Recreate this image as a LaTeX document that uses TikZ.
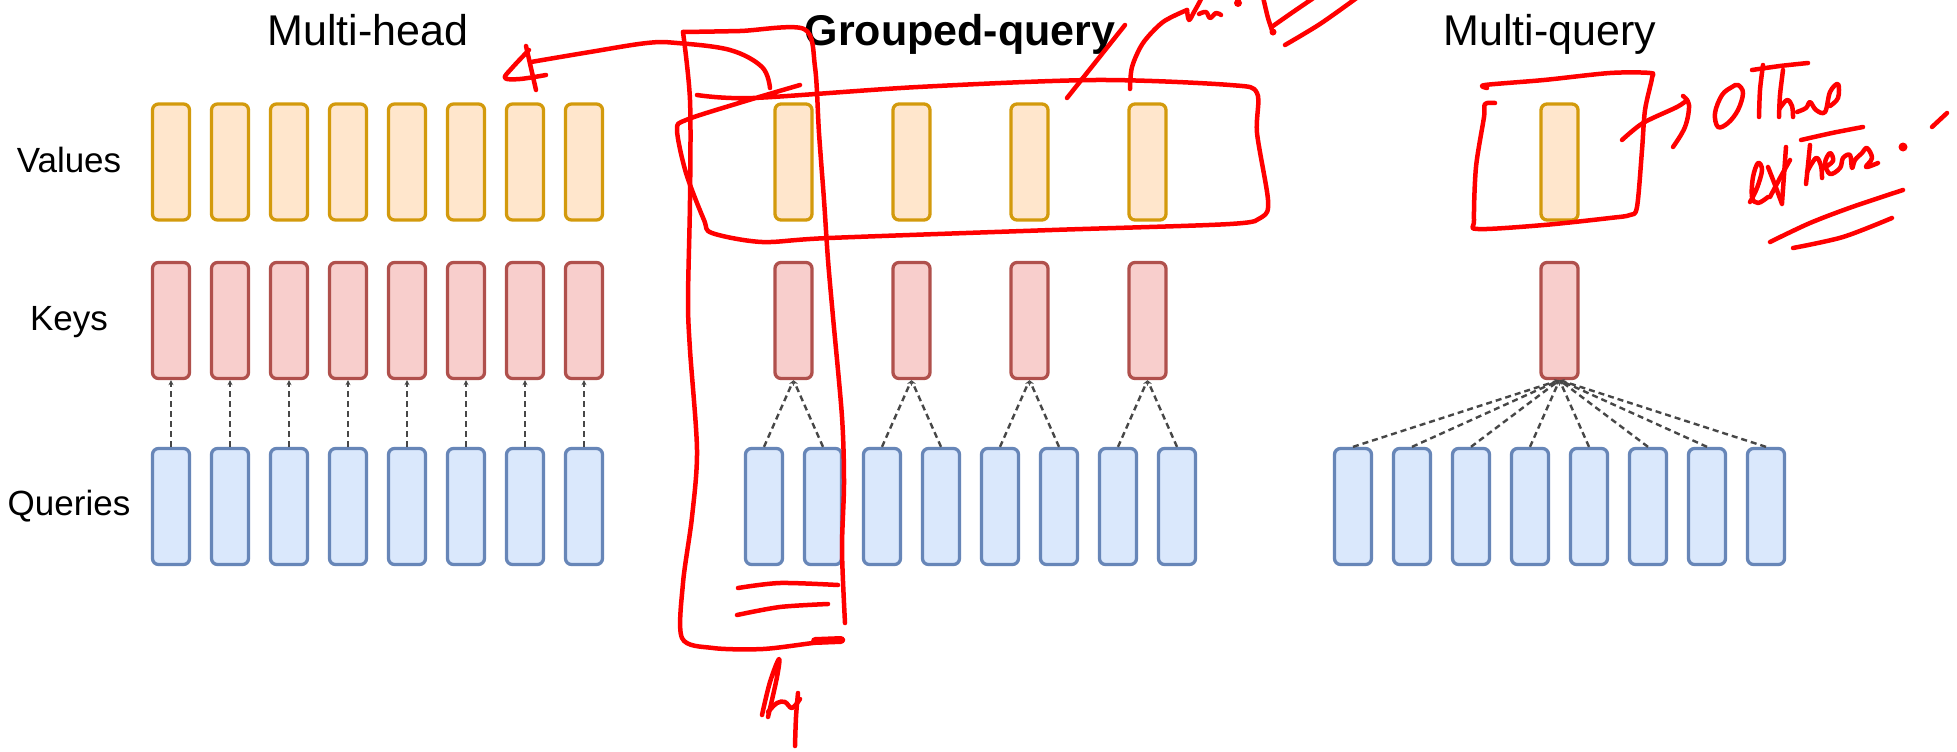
\documentclass[tikz,border=0pt]{standalone}
\usepackage{fontspec}
\setmainfont{Liberation Sans}
\usetikzlibrary{arrows.meta}

\definecolor{valfill}{HTML}{FFE6CC}
\definecolor{valdraw}{HTML}{D39A0C}
\definecolor{keyfill}{HTML}{F8CECC}
\definecolor{keydraw}{HTML}{B0504C}
\definecolor{qfill}{HTML}{DAE8FC}
\definecolor{qdraw}{HTML}{6786B8}
\definecolor{link}{HTML}{474747}
\definecolor{ink}{HTML}{FF0000}

\begin{document}
\begin{tikzpicture}[x=1pt,y=-1pt,
  headbox/.style={rectangle, rounded corners=6pt, line width=3.3pt,
    minimum width=37pt, minimum height=116pt, inner sep=0pt},
  valbox/.style={headbox, fill=valfill, draw=valdraw},
  keybox/.style={headbox, fill=keyfill, draw=keydraw},
  qbox/.style={headbox, fill=qfill, draw=qdraw},
  share/.style={draw=link, line width=2.4pt, dash pattern=on 6pt off 4pt,
    -{Stealth[length=5pt,width=5pt]}},
  rowlabel/.style={font=\fontsize{35}{40}\selectfont, anchor=base, inner sep=0pt},
  title/.style={font=\fontsize{43}{50}\selectfont, anchor=base, inner sep=0pt},
  pen/.style={draw=ink, line width=4.5pt, line cap=round, line join=round},
]
\path[fill=white, use as bounding box] (0,0) rectangle (1957,752);

% titles and row labels
\node[title] (tmh) at (368,46) {Multi-head};
\node[title, font=\fontsize{43}{50}\selectfont\bfseries] (tgq) at (960,46) {Grouped-query};
\node[title] (tmq) at (1550,46) {Multi-query};
\node[rowlabel] (lval) at (69,172) {Values};
\node[rowlabel] (lkey) at (69,330) {Keys};
\node[rowlabel] (lqry) at (69,515) {Queries};

% multi-head: one key/value head per query head
\foreach \i in {0,...,7} {
  \node[valbox] (mhv\i) at ({171+59*\i},162) {};
  \node[keybox] (mhk\i) at ({171+59*\i},320.5) {};
  \node[qbox]   (mhq\i) at ({171+59*\i},506.5) {};
  \draw[share] (mhq\i.north) -- (mhk\i.south);
}

% grouped-query: one key/value head per pair of query heads
\foreach \j in {0,...,3} {
  \node[valbox] (gqv\j) at ({793.5+118*\j},162) {};
  \node[keybox] (gqk\j) at ({793.5+118*\j},320.5) {};
}
\foreach \i [evaluate=\i as \g using {int(\i/2)}] in {0,...,7} {
  \node[qbox] (gqq\i) at ({764+59*\i},506.5) {};
  \draw[share] (gqq\i.north) -- (gqk\g.south);
}

% multi-query: a single key/value head shared by all query heads
\node[valbox] (mqv) at (1559.5,162) {};
\node[keybox] (mqk) at (1559.5,320.5) {};
\foreach \i in {0,...,7} {
  \node[qbox] (mqq\i) at ({1353+59*\i},506.5) {};
  \draw[share] (mqq\i.north) -- (mqk.south);
}

% ---- red pen notes ----
% tall frame round the first group
\draw[pen] plot[smooth, tension=0.5] coordinates {(683,32) (740,31) (804,29) (815,67)
  (819,133) (824,200) (828,260) (833,317) (842,417) (844,483) (842,550) (845,623)};
\draw[pen] plot[smooth, tension=0.5] coordinates {(683,32) (690,100) (690,200) (688,300)
  (690,350) (697,450) (692,517) (683,583) (682,638) (713,648) (763,649) (813,643) (843,640)};
\draw[pen, line width=8pt] (815,641) -- (841,640);
\draw[pen] plot[smooth] coordinates {(738,588) (780,583) (838,585)};
\draw[pen] plot[smooth] coordinates {(737,615) (780,607) (828,604)};
% "hq" under the frame
\draw[pen] plot[smooth, tension=0.6] coordinates {(762,715) (770,682) (779,659) (777,677) (768,717)};
\draw[pen] plot[smooth, tension=0.6] coordinates {(768,712) (777,703) (785,702) (792,708) (800,699)};
\draw[pen] plot[smooth] coordinates {(798,693) (796,717) (795,746)};

% wide frame round the grouped values
\draw[pen] plot[smooth, tension=0.5] coordinates {(697,95) (753,98) (918,87) (1096,80)
  (1230,85) (1257,93) (1257,133) (1268,200) (1262,217) (1230,224) (1052,230) (829,238)
  (762,242) (712,233) (704,220) (686,173) (677,130) (686,120) (739,103) (800,85)};

% arrow back to the multi-head title
\draw[pen] plot[smooth, tension=0.6] coordinates {(770,88) (762,67) (730,50) (677,43)
  (647,43) (590,52) (531,62)};
\draw[pen] plot[smooth] coordinates {(526,46) (531,68) (536,90)};
\draw[pen] plot[smooth, tension=0.6] coordinates {(529,50) (512,68) (505,78) (520,79) (546,75)};

% strokes up to the note at the top
\draw[pen] (1125,25) -- (1067,98);
\draw[pen] plot[smooth] coordinates {(1130,89) (1132,67) (1143,43) (1163,22) (1187,10)};
\draw[pen] plot[smooth, tension=0.6] coordinates {(1187,10) (1189,20) (1194,12) (1199,3) (1202,-3)};
\draw[pen] plot[smooth, tension=0.6] coordinates {(1199,14) (1206,12) (1210,18) (1216,13) (1221,15)};
\fill[ink] (1238,3) circle (4pt);
\draw[pen] plot[smooth] coordinates {(1263,-3) (1268,18) (1273,33)};
\fill[ink] (1273,32) circle (3.5pt);
\draw[pen] plot[smooth] coordinates {(1273,26) (1293,12) (1315,-3)};
\draw[pen] plot[smooth] coordinates {(1285,45) (1320,24) (1358,-3)};

% frame round the single value head
\draw[pen] plot[smooth, tension=0.5] coordinates {(1487,88) (1485,85) (1544,80) (1610,73)
  (1650,73) (1652,78) (1645,110) (1642,150) (1637,207) (1630,215) (1610,218) (1544,225)
  (1478,229) (1474,220) (1476,167) (1484,117) (1485,104) (1495,103)};
\draw[pen] plot[smooth] coordinates {(1622,140) (1643,123) (1677,107) (1687,100)};
\draw[pen] plot[smooth, tension=0.6] coordinates {(1683,96) (1689,105) (1685,127) (1673,147)};

% "Other"
\draw[pen] plot[smooth cycle, tension=0.6] coordinates {(1732,87) (1722,95) (1715,113) (1718,127)
  (1728,123) (1738,110) (1743,93) (1738,85)};
\draw[pen] plot[smooth] coordinates {(1763,65) (1760,90) (1759,117)};
\draw[pen] plot[smooth] coordinates {(1752,70) (1780,66) (1808,63)};
\draw[pen] plot[smooth] coordinates {(1783,70) (1780,95) (1779,117)};
\draw[pen] plot[smooth, tension=0.6] coordinates {(1780,108) (1787,100) (1792,106) (1793,117)};
\draw[pen] plot[smooth, tension=0.6] coordinates {(1797,112) (1806,108) (1810,102) (1816,110)
  (1825,112) (1830,92) (1838,84) (1838,98) (1830,106)};

% "extens."
\draw[pen] plot[smooth, tension=0.6] coordinates {(1750,202) (1757,188) (1762,170) (1758,163)
  (1753,177) (1752,197) (1758,203) (1768,197)};
\draw[pen] plot[smooth] coordinates {(1768,167) (1775,185) (1782,204)};
\draw[pen] plot[smooth] coordinates {(1790,160) (1780,178) (1770,197)};
\draw[pen] plot[smooth] coordinates {(1786,147) (1784,175) (1782,203)};
\draw[pen] plot[smooth] coordinates {(1801,140) (1832,133) (1863,127)};
\draw[pen] plot[smooth] coordinates {(1810,145) (1808,165) (1806,184)};
\draw[pen] plot[smooth, tension=0.6] coordinates {(1807,172) (1816,158) (1821,166) (1822,178)};
\draw[pen] plot[smooth, tension=0.6] coordinates {(1824,168) (1833,161) (1830,153) (1825,163)
  (1830,174) (1840,168) (1843,158) (1850,155) (1852,168) (1855,160) (1862,153)
  (1867,148) (1872,158) (1866,167) (1878,163)};
\fill[ink] (1903,147) circle (4.5pt);
\draw[pen] (1932,127) -- (1947,113);
\draw[pen] plot[smooth] coordinates {(1770,242) (1810,223) (1852,207) (1903,190)};
\draw[pen] plot[smooth] coordinates {(1793,248) (1843,237) (1892,218)};
\end{tikzpicture}
\end{document}
